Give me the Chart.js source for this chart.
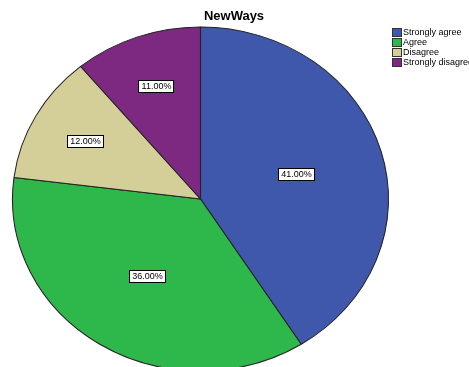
<!DOCTYPE html>
<html>
<head>
<meta charset="utf-8">
<script src="https://cdn.jsdelivr.net/npm/chart.js@4/dist/chart.umd.min.js"></script>
<style>
html,body{margin:0;padding:0;background:#fff;overflow:hidden;}
#c{display:block;}
</style>
</head>
<body>
<canvas id="c" width="469" height="367"></canvas>
<script>
const chartTitle = "NewWays";
const categories = ["Strongly agree", "Agree", "Disagree", "Strongly disagree"];
const percentValues = [41, 36, 12, 11];
const sliceColors = ["#3F58AC", "#2EB84B", "#D4CF98", "#7D2881"];

// ellipse placement of the pie (drawn by Chart.js, then stretched)
const PIE_CX = 200.5, PIE_CY = 199, PIE_RX = 188, PIE_RY = 172;

const ellipsePlugin = {
  id: 'ellipse',
  beforeDatasetsDraw(chart) {
    const arc = chart.getDatasetMeta(0).data[0];
    const r = arc.outerRadius;
    const ctx = chart.ctx;
    ctx.save();
    ctx.translate(PIE_CX, PIE_CY);
    ctx.scale(PIE_RX / r, PIE_RY / r);
    ctx.translate(-arc.x, -arc.y);
  },
  afterDatasetsDraw(chart) {
    const ctx = chart.ctx;
    ctx.restore();
    const meta = chart.getDatasetMeta(0);
    const vals = chart.data.datasets[0].data;
    ctx.save();
    ctx.font = '9px "Liberation Sans", Arial, sans-serif';
    ctx.textAlign = 'center';
    ctx.textBaseline = 'middle';
    meta.data.forEach((a, i) => {
      const mid = (a.startAngle + a.endAngle) / 2;
      const f = vals[i] > 20 ? 0.53 : 0.70;
      const px = PIE_CX + Math.cos(mid) * PIE_RX * f;
      const py = PIE_CY + Math.sin(mid) * PIE_RY * f;
      const txt = vals[i].toFixed(2) + '%';
      const w = Math.round(ctx.measureText(txt).width) + 5;
      const h = 12;
      const bx = Math.round(px - w / 2) + 0.5, by = Math.round(py - h / 2) + 0.5;
      ctx.fillStyle = '#fff';
      ctx.fillRect(bx, by, w, h);
      ctx.strokeStyle = '#000';
      ctx.lineWidth = 1;
      ctx.strokeRect(bx, by, w, h);
      ctx.fillStyle = '#000';
      ctx.fillText(txt, Math.round(px) + 0.5, Math.round(py) + 1);
    });
    ctx.restore();
  },
  afterDraw(chart) {
    const ctx = chart.ctx;
    ctx.save();
    ctx.fillStyle = '#000';
    ctx.font = 'bold 13px "Liberation Sans", Arial, sans-serif';
    ctx.textAlign = 'center';
    ctx.textBaseline = 'middle';
    ctx.fillText(chartTitle, 234, 16);
    ctx.font = '9px "Liberation Sans", Arial, sans-serif';
    ctx.textAlign = 'left';
    const labels = chart.data.labels;
    labels.forEach((l, i) => {
      const y = 28 + i * 10;
      ctx.fillStyle = sliceColors[i];
      ctx.fillRect(392.5, y + 0.5, 9, 8);
      ctx.strokeStyle = '#333';
      ctx.lineWidth = 1;
      ctx.strokeRect(392.5, y + 0.5, 9, 8);
      ctx.fillStyle = '#000';
      ctx.fillText(l, 403, y + 5);
    });
    ctx.restore();
  }
};

new Chart(document.getElementById('c'), {
  type: 'pie',
  data: {
    labels: categories,
    datasets: [{
      data: percentValues,
      backgroundColor: sliceColors,
      borderColor: '#222',
      borderWidth: 0.95,
      hoverOffset: 0,
      clip: false
    }]
  },
  options: {
    responsive: false,
    animation: false,
    events: [],
    layout: { padding: { left: 30, right: 99, top: 26, bottom: 1 } },
    plugins: {
      legend: { display: false },
      title: { display: false },
      tooltip: { enabled: false }
    }
  },
  plugins: [ellipsePlugin]
});
</script>
</body>
</html>
